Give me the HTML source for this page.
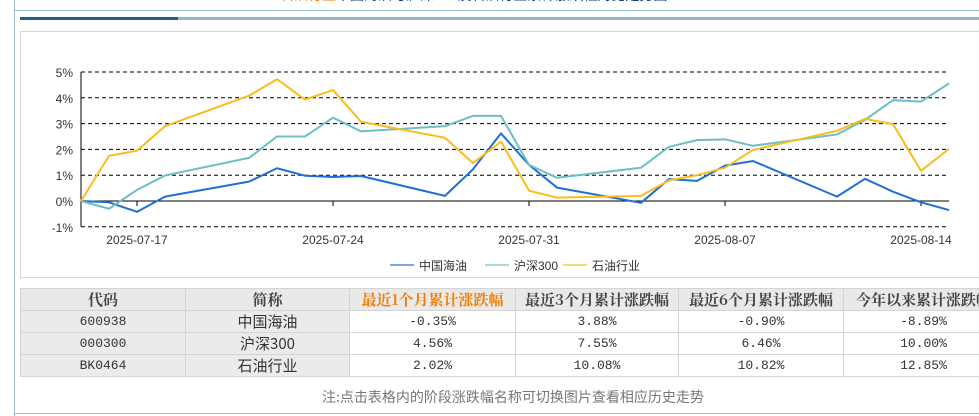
<!DOCTYPE html>
<html><head><meta charset="utf-8"><style>
body{margin:0;width:979px;height:416px;overflow:hidden;background:#fff;font-family:"Liberation Sans","Noto Sans CJK SC",sans-serif;position:relative}
.abs{position:absolute}
table{border-collapse:collapse;position:absolute;left:20px;top:288px;width:983px;table-layout:fixed;font-family:"Liberation Mono","Noto Serif CJK SC",monospace}
td{border:1px solid #d4d4d4;height:21px;padding:0;text-align:center;font-size:13px;color:#333;overflow:hidden;white-space:nowrap}
tr.h td{background:#e9e9e9;font-weight:bold;font-size:15px;color:#444;font-family:"Noto Serif CJK SC",serif}
td.g{background:#ebebeb}
</style></head><body>
<div class="abs" style="left:280px;top:-15px;font-size:14px;color:#0a3d91;white-space:nowrap"><span style="color:#f08000">石油行业</span>中国海油与沪深300及石油行业累计涨跌幅对比走势图</div>
<div class="abs" style="left:14px;top:0;width:1px;height:416px;background:#9dbfd6"></div>
<div class="abs" style="left:14px;top:10px;width:965px;height:1px;background:#9dbfd6"></div>
<div class="abs" style="left:20px;top:17px;width:959px;height:3px;background:#8db8d4"></div>
<div class="abs" style="left:20px;top:17px;width:158px;height:3px;background:#1f5f8b"></div>
<div class="abs" style="left:20px;top:31px;width:970px;height:245px;border:1px solid #d6d6d6"></div>
<svg class="abs" style="left:0;top:0" width="979" height="290" id="chart"></svg>
<table>
<colgroup><col style="width:165px"><col style="width:164px"><col style="width:166px"><col style="width:163px"><col style="width:165px"><col style="width:160px"></colgroup>
<tr class="h"><td>代码</td><td>简称</td><td style="color:#f47c00">最近1个月累计涨跌幅</td><td>最近3个月累计涨跌幅</td><td>最近6个月累计涨跌幅</td><td>今年以来累计涨跌幅</td></tr>
<tr><td class="g">600938</td><td class="g" style="font-family:'Noto Sans CJK SC',sans-serif;font-size:15px">中国海油</td><td>-0.35%</td><td>3.88%</td><td>-0.90%</td><td>-8.89%</td></tr>
<tr><td class="g">000300</td><td class="g" style="font-family:'Noto Sans CJK SC',sans-serif;font-size:15px">沪深300</td><td>4.56%</td><td>7.55%</td><td>6.46%</td><td>10.00%</td></tr>
<tr><td class="g">BK0464</td><td class="g" style="font-family:'Noto Sans CJK SC',sans-serif;font-size:15px">石油行业</td><td>2.02%</td><td>10.08%</td><td>10.82%</td><td>12.85%</td></tr>
</table>
<div class="abs" style="left:322px;top:387px;font-size:14px;color:#777;font-family:'Noto Sans CJK SC',sans-serif">注:点击表格内的阶段涨跌幅名称可切换图片查看相应历史走势</div>
<div class="abs" style="left:14px;top:413px;width:965px;height:1px;background:#9dbfd6"></div>
<script>
const dates=["07-15","07-16","07-17","07-18","07-21","07-22","07-23","07-24","07-25","07-28","07-29","07-30","07-31","08-01","08-04","08-05","08-06","08-07","08-08","08-11","08-12","08-13","08-14","08-15"];
const cnooc=[0,-0.05,-0.42,0.17,0.75,1.27,0.98,0.93,0.97,0.2,1.23,2.62,1.4,0.52,-0.07,0.85,0.78,1.37,1.55,0.17,0.86,0.36,-0.05,-0.35];
const hs300=[0,-0.3,0.43,0.99,1.67,2.5,2.5,3.23,2.7,2.9,3.3,3.3,1.4,0.9,1.29,2.1,2.36,2.39,2.14,2.58,3.14,3.91,3.85,4.56];
const oil=[0,1.75,1.95,2.9,4.08,4.72,3.93,4.3,3.07,2.45,1.47,2.3,0.4,0.13,0.2,0.8,1.0,1.29,1.98,2.72,3.18,2.98,1.17,2.02];
const yTicks=[5,4,3,2,1,0,-1];
const xTicks=["07-17","07-24","07-31","08-07","08-14"];
const svg=document.getElementById('chart');const NS="http://www.w3.org/2000/svg";
const day0=new Date("2025-07-15");
function dayIdx(d){return Math.round((new Date("2025-"+d)-day0)/864e5);}
function X(d){return 81+dayIdx(d)*28;}
function Y(v){return 201-v*25.8;}
function mk(t,a){const e=document.createElementNS(NS,t);for(const k in a)e.setAttribute(k,a[k]);svg.appendChild(e);return e;}
yTicks.forEach(v=>{
 const l=mk('line',{x1:81,x2:949,y1:Y(v),y2:Y(v),stroke:'#000','stroke-width':1,'stroke-dasharray':v===0?'':'4,3'});
 
 
 const t=mk('text',{x:73,y:Y(v)+5,'text-anchor':'end','font-size':12,fill:'#333'});t.textContent=v+'%';
 
 
});
mk('line',{x1:81,x2:81,y1:Y(5),y2:Y(-1),stroke:'#000'});
xTicks.forEach(d=>{
 const x=X(d);mk('line',{x1:x,x2:x,y1:Y(0),y2:Y(0)+5,stroke:'#000'});
 const t=mk('text',{x:x,y:244,'text-anchor':'middle','font-size':12,fill:'#333'});t.textContent='2025-'+d;
 
 
});
const series=[[cnooc,'#1f6fd6','中国海油'],[hs300,'#6cbfc6','沪深300'],[oil,'#fbbc1c','石油行业']];
series.forEach(([vals,col])=>{
 const p=mk('polyline',{points:vals.map((v,i)=>X(dates[i])+','+Y(v)).join(' '),fill:'none',stroke:col,'stroke-width':2,'stroke-linejoin':'round'});
 
 
});
const legX=[390,485,563];
series.forEach(([v,col,name],i)=>{
 const l=mk('line',{x1:legX[i],x2:legX[i]+24,y1:265,y2:265,stroke:col,'stroke-width':2,opacity:0.6});
 
 
 const t=mk('text',{x:legX[i]+29,y:270,'font-size':12,fill:'#333'});t.textContent=name;
 
 
});
</script>
</body></html>
